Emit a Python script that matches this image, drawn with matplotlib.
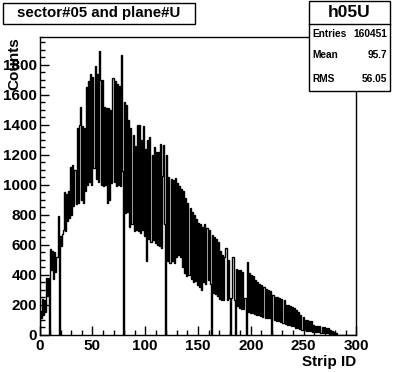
import numpy as np
import matplotlib
matplotlib.use("Agg")
import matplotlib.pyplot as plt
from matplotlib.patches import Rectangle
from matplotlib.ticker import MultipleLocator

plt.rcParams['font.family'] = ['Liberation Sans', 'DejaVu Sans']
plt.rcParams['font.weight'] = 'bold'

# counts per strip (strip 0 .. 283)
counts = [
    160, 110, 240, 130, 230, 150, 380, 260, 380, 0,
    570, 430, 560, 370, 550, 420, 520, 790, 0, 660,
    590, 670, 700, 950, 690, 940, 760, 960, 780, 1120,
    800, 1130, 860, 1100, 870, 1380, 880, 1400, 1520, 900,
    1390, 880, 1380, 960, 1650, 1000, 1690, 1020, 1740, 1000,
    1720, 1110, 1790, 1040, 1740, 1020, 1890, 1700, 1000, 1700,
    990, 1520, 1000, 1510, 880, 1510, 900, 1500, 1010, 1710,
    1020, 1690, 990, 1670, 1000, 1660, 990, 1866, 1090, 0,
    1555, 810, 1530, 820, 1430, 720, 1380, 740, 1330, 690,
    1260, 700, 1400, 690, 1400, 680, 1300, 700, 1390, 660,
    1240, 490, 1300, 640, 1320, 620, 1200, 630, 1250, 610,
    1220, 600, 1220, 590, 1270, 580, 1060, 1266, 740, 0,
    1200, 490, 1050, 480, 1040, 490, 1030, 480, 1045, 520,
    1010, 530, 990, 520, 975, 455, 960, 410, 910, 390,
    880, 400, 845, 370, 820, 350, 800, 360, 770, 330,
    745, 320, 740, 300, 720, 350, 740, 340, 710, 365,
    700, 340, 0, 665, 280, 650, 270, 640, 260, 620,
    240, 560, 235, 530, 232, 520, 577, 230, 500, 245,
    0, 245, 516, 516, 230, 0, 440, 190, 430, 180,
    435, 175, 420, 170, 245, 0, 487, 150, 410, 145,
    400, 145, 395, 140, 365, 130, 350, 130, 340, 125,
    330, 120, 320, 115, 305, 110, 300, 110, 290, 0,
    265, 265, 100, 255, 95, 250, 90, 245, 85, 240,
    80, 232, 70, 200, 66, 198, 65, 195, 60, 188,
    60, 177, 45, 165, 45, 150, 40, 132, 32, 120,
    30, 100, 28, 99, 28, 95, 25, 90, 20, 66,
    20, 62, 18, 60, 18, 56, 15, 55, 13, 50,
    12, 48, 10, 44, 8, 32, 6, 25, 4, 18,
    3, 15, 2, 0,
]
n_bins = 300
hist = np.zeros(n_bins)
hist[:len(counts)] = counts
edges = np.arange(n_bins + 1)

title = "sector#05 and plane#U"
hname = "h05U"
stats = [("Entries", "160451"), ("Mean", "95.7"), ("RMS", "56.05")]

W, H = 396, 372
fig = plt.figure(figsize=(W / 100, H / 100), dpi=100)
ax = fig.add_axes([0.1, 0.1, 0.8, 0.8])

ax.stairs(hist, edges, color='black', linewidth=1.0)

ax.set_xlim(0, 300)
ax.set_ylim(0, 1985)
ax.xaxis.set_major_locator(MultipleLocator(50))
ax.xaxis.set_minor_locator(MultipleLocator(10))
ax.yaxis.set_major_locator(MultipleLocator(200))
ax.yaxis.set_minor_locator(MultipleLocator(50))
ax.tick_params(which='both', direction='in', top=False, right=False,
               labelsize=11, width=1)
ax.tick_params(which='major', length=6.5, pad=3)
ax.tick_params(which='minor', length=3.3)
ax.tick_params(axis='y', pad=2)
for lab in ax.get_xticklabels() + ax.get_yticklabels():
    lab.set_fontweight('bold')
for sp in ax.spines.values():
    sp.set_linewidth(1)

# axis titles, ROOT style ("Counts" sits over the top label as in the original)
fig.text(356 / W, 1 - 362 / H, "Strip ID", ha='right', va='center',
         fontsize=11, fontweight='bold')
fig.text(14 / W, 1 - 37 / H, "Counts", ha='center', va='top', rotation=90,
         fontsize=11, fontweight='bold')

# title box
fig.add_artist(Rectangle((3 / W, 1 - 24 / H), 192 / W, 21 / H,
                         transform=fig.transFigure, facecolor='white',
                         edgecolor='black', linewidth=1))
fig.text(99 / W, 1 - 13.5 / H, title, ha='center', va='center',
         fontsize=10.8, fontweight='bold')

# stats box
fig.add_artist(Rectangle((309 / W, 1 - 91 / H), 81 / W, 90 / H,
                         transform=fig.transFigure, facecolor='white',
                         edgecolor='black', linewidth=1))
fig.add_artist(plt.Line2D([309 / W, 390 / W], [1 - 24 / H, 1 - 24 / H],
                          transform=fig.transFigure, color='black', linewidth=1))
fig.text(349.5 / W, 1 - 12.5 / H, hname, ha='center', va='center',
         fontsize=12.5, fontweight='bold')
for (name, val), yy in zip(stats, [34, 55, 79]):
    fig.text(312 / W, 1 - yy / H, name, ha='left', va='center',
             fontsize=7.3, fontweight='bold')
    fig.text(387 / W, 1 - yy / H, val, ha='right', va='center',
             fontsize=7.3, fontweight='bold')

fig.savefig("out.png", dpi=100)
